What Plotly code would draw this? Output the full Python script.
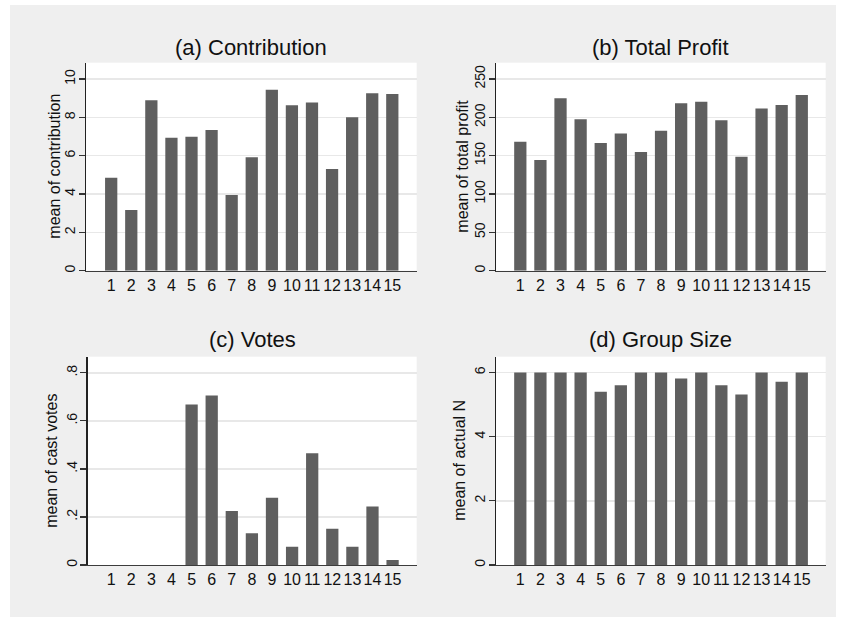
import plotly.graph_objects as go

# ---- data ----
groups = list(range(1, 16))
group_labels = [str(g) for g in groups]

contribution = [4.85, 3.17, 8.89, 6.94, 6.99, 7.34, 3.95, 5.92, 9.44, 8.63, 8.78, 5.30, 8.00, 9.25, 9.22]
total_profit = [168.3, 144.3, 224.8, 197.4, 166.5, 179.1, 154.8, 182.6, 218.3, 220.4, 196.1, 148.7, 211.7, 216.1, 229.1]
cast_votes = [0, 0, 0, 0, 0.668, 0.706, 0.225, 0.132, 0.280, 0.076, 0.465, 0.151, 0.076, 0.243, 0.021]
group_size = [6, 6, 6, 6, 5.40, 5.60, 6, 6, 5.81, 6, 5.60, 5.31, 6, 5.71, 6]

titles = ["(a) Contribution", "(b) Total Profit", "(c) Votes", "(d) Group Size"]
y_titles = ["mean of contribution", "mean of total profit", "mean of cast votes", "mean of actual N"]

ytick_vals_a = [0, 2, 4, 6, 8, 10]
ytick_text_a = ["0", "2", "4", "6", "8", "10"]
ytick_vals_b = [0, 50, 100, 150, 200, 250]
ytick_text_b = ["0", "50", "100", "150", "200", "250"]
ytick_vals_c = [0, 0.2, 0.4, 0.6, 0.8]
ytick_text_c = ["0", ".2", ".4", ".6", ".8"]
ytick_vals_d = [0, 2, 4, 6]
ytick_text_d = ["0", "2", "4", "6"]

# ---- layout geometry (pixels) ----
W, H = 845, 619
FONT = "Liberation Sans, Arial, sans-serif"
BAR = "#5f5f5f"

panels = [
    dict(vals=contribution, ymax=10.85, tv=ytick_vals_a, tt=ytick_text_a,
         px=(86, 416.7), py=(62.7, 270.7), xr=(-0.255, 16.215), ty=47.5, ytx=55),
    dict(vals=total_profit, ymax=271.3, tv=ytick_vals_b, tt=ytick_text_b,
         px=(495.7, 825.7), py=(62.7, 270.7), xr=(-0.224, 16.19), ty=47.5, ytx=463),
    dict(vals=cast_votes, ymax=0.867, tv=ytick_vals_c, tt=ytick_text_c,
         px=(87.5, 416.7), py=(356.7, 565), xr=(-0.18, 16.2), ty=340, ytx=52),
    dict(vals=group_size, ymax=6.49, tv=ytick_vals_d, tt=ytick_text_d,
         px=(495.7, 825.7), py=(356.7, 565), xr=(-0.224, 16.19), ty=340, ytx=460),
]

fig = go.Figure()
annotations = []
for i, p in enumerate(panels, start=1):
    sfx = "" if i == 1 else str(i)
    fig.add_trace(go.Bar(
        x=groups, y=p["vals"], width=0.61,
        marker=dict(color=BAR, line=dict(width=0)),
        xaxis="x" + sfx, yaxis="y" + sfx, showlegend=False,
    ))
    xd = [p["px"][0] / W, p["px"][1] / W]
    yd = [1 - p["py"][1] / H, 1 - p["py"][0] / H]
    fig.layout["xaxis" + sfx] = dict(
        domain=xd, anchor="y" + sfx, range=list(p["xr"]),
        tickmode="array", tickvals=groups, ticktext=group_labels,
        showgrid=False, zeroline=False, showline=True,
        linecolor="#3c3c3c", linewidth=1.2, ticks="",
        tickfont=dict(family=FONT, size=16, color="#111"),
        automargin=False, fixedrange=True,
    )
    fig.layout["yaxis" + sfx] = dict(
        domain=yd, anchor="x" + sfx, range=[0, p["ymax"]],
        tickmode="array", tickvals=p["tv"], ticktext=p["tt"],
        tickangle=-90, ticks="outside", ticklen=6, tickwidth=1.2, tickcolor="#333",
        ticklabelstandoff=-2,
        showgrid=True, gridcolor="#e8e8e8", gridwidth=1.5,
        zeroline=False, showline=True, linecolor="#222", linewidth=1.2,
        tickfont=dict(family=FONT, size=14, color="#111"),
        automargin=False, fixedrange=True,
    )
    cx = (p["px"][0] + p["px"][1]) / 2 / W
    annotations.append(dict(
        text=titles[i - 1], x=cx, y=1 - p["ty"] / H, xref="paper", yref="paper",
        xanchor="center", yanchor="middle", showarrow=False,
        font=dict(family=FONT, size=22, color="#111"),
    ))
    annotations.append(dict(
        text=y_titles[i - 1], x=p["ytx"] / W, y=(yd[0] + yd[1]) / 2,
        xref="paper", yref="paper", xanchor="center", yanchor="middle",
        textangle=-90, showarrow=False,
        font=dict(family=FONT, size=16, color="#111"),
    ))

# white outer frame strips around the gray graph region
shapes = [
    dict(type="rect", xref="paper", yref="paper", x0=0, x1=10 / W, y0=0, y1=1,
         fillcolor="white", line=dict(width=0), layer="below"),
    dict(type="rect", xref="paper", yref="paper", x0=0, x1=1, y0=1 - 5 / H, y1=1,
         fillcolor="white", line=dict(width=0), layer="below"),
    dict(type="rect", xref="paper", yref="paper", x0=836 / W, x1=1, y0=0, y1=1,
         fillcolor="white", line=dict(width=0), layer="below"),
    dict(type="rect", xref="paper", yref="paper", x0=0, x1=1, y0=0, y1=2 / H,
         fillcolor="white", line=dict(width=0), layer="below"),
]

fig.update_layout(
    width=W, height=H,
    margin=dict(l=0, r=0, t=0, b=0),
    paper_bgcolor="#efefef", plot_bgcolor="white",
    bargap=0.39, annotations=annotations, shapes=shapes,
    font=dict(family=FONT, color="#111"),
    showlegend=False,
)

fig.write_html(
    "out.html",
    config={"displayModeBar": False, "staticPlot": True},
    post_script="document.body.style.margin='0';document.body.style.overflow='hidden';",
)
